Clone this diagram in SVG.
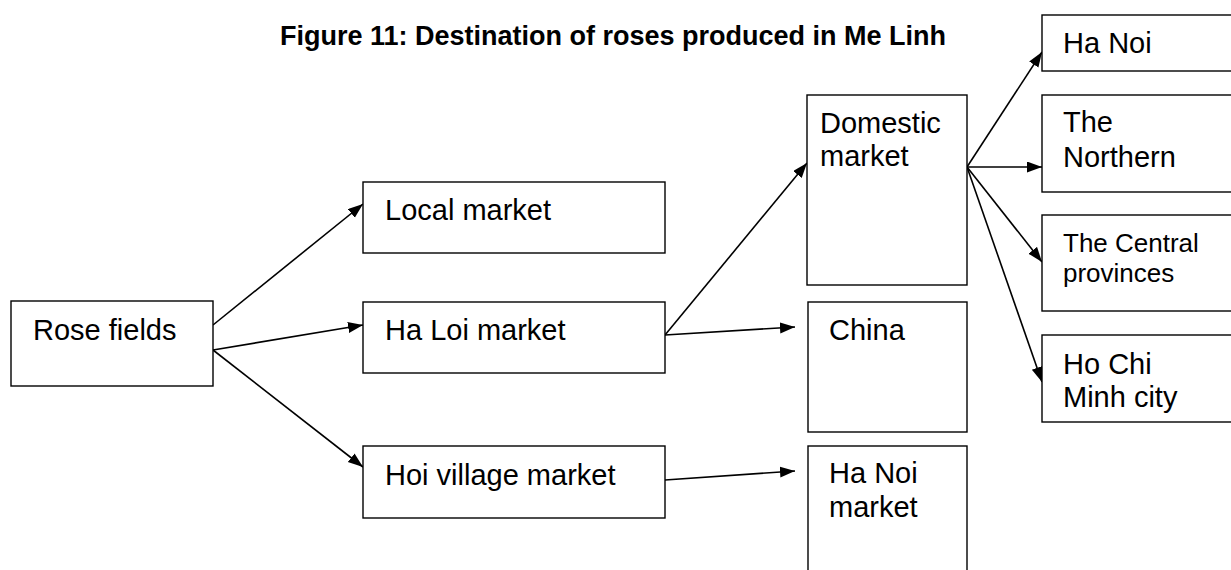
<svg xmlns="http://www.w3.org/2000/svg" width="1231" height="570" viewBox="0 0 1231 570">
<style>
.box{fill:#fff;stroke:#000;stroke-width:1.4}
.t{font-family:"Liberation Sans",Arial,sans-serif;font-size:29px;fill:#000}
.s{font-size:26px}
.title{font-family:"Liberation Sans",Arial,sans-serif;font-size:27px;font-weight:bold;fill:#000}
.c{stroke:#000;stroke-width:1.6;fill:none;marker-end:url(#ah)}
</style>
<defs>
<marker id="ah" markerUnits="userSpaceOnUse" markerWidth="16" markerHeight="12" refX="15" refY="5.5" orient="auto">
<path d="M0,0 L15,5.5 L0,11 z" fill="#000"/>
</marker>
</defs>
<rect width="1231" height="570" fill="#fff"/>
<text class="title" x="280" y="45">Figure 11: Destination of roses produced in Me Linh</text>
<g id="connectors">
<line class="c" x1="213" y1="325" x2="363" y2="204"/>
<line class="c" x1="213" y1="350" x2="363" y2="325"/>
<line class="c" x1="213" y1="350" x2="363" y2="467"/>
<line class="c" x1="665" y1="335" x2="807" y2="163"/>
<line class="c" x1="665" y1="335" x2="795" y2="327"/>
<line class="c" x1="665" y1="480" x2="795" y2="471"/>
<line class="c" x1="967" y1="167" x2="1042" y2="52"/>
<line class="c" x1="967" y1="167" x2="1042" y2="167"/>
<line class="c" x1="967" y1="167" x2="1042" y2="262"/>
<line class="c" x1="967" y1="167" x2="1042" y2="382"/>
</g>
<g id="rose-fields"><rect class="box" x="11" y="301" width="202" height="85"/><text class="t" x="33" y="340">Rose fields</text></g>
<g id="local-market"><rect class="box" x="363" y="182" width="302" height="71"/><text class="t" x="385" y="220">Local market</text></g>
<g id="ha-loi-market"><rect class="box" x="363" y="302" width="302" height="71"/><text class="t" x="385" y="340">Ha Loi market</text></g>
<g id="hoi-village-market"><rect class="box" x="363" y="446" width="302" height="72"/><text class="t" x="385" y="485">Hoi village market</text></g>
<g id="domestic-market"><rect class="box" x="807" y="95" width="160" height="190"/><text class="t" x="820" y="133">Domestic</text><text class="t" x="820" y="166">market</text></g>
<g id="china"><rect class="box" x="808" y="302" width="159" height="130"/><text class="t" x="829" y="340">China</text></g>
<g id="ha-noi-market"><rect class="box" x="808" y="446" width="159" height="140"/><text class="t" x="829" y="483">Ha Noi</text><text class="t" x="829" y="517">market</text></g>
<g id="ha-noi"><rect class="box" x="1042" y="15" width="200" height="56"/><text class="t" x="1063" y="53">Ha Noi</text></g>
<g id="northern"><rect class="box" x="1042" y="95" width="200" height="97"/><text class="t" x="1063" y="132">The</text><text class="t" x="1063" y="167">Northern</text></g>
<g id="central"><rect class="box" x="1042" y="215" width="200" height="96"/><text class="t s" x="1063" y="252">The Central</text><text class="t s" x="1063" y="282">provinces</text></g>
<g id="ho-chi-minh"><rect class="box" x="1042" y="335" width="200" height="87"/><text class="t" x="1063" y="374">Ho Chi</text><text class="t" x="1063" y="407">Minh city</text></g>
</svg>
